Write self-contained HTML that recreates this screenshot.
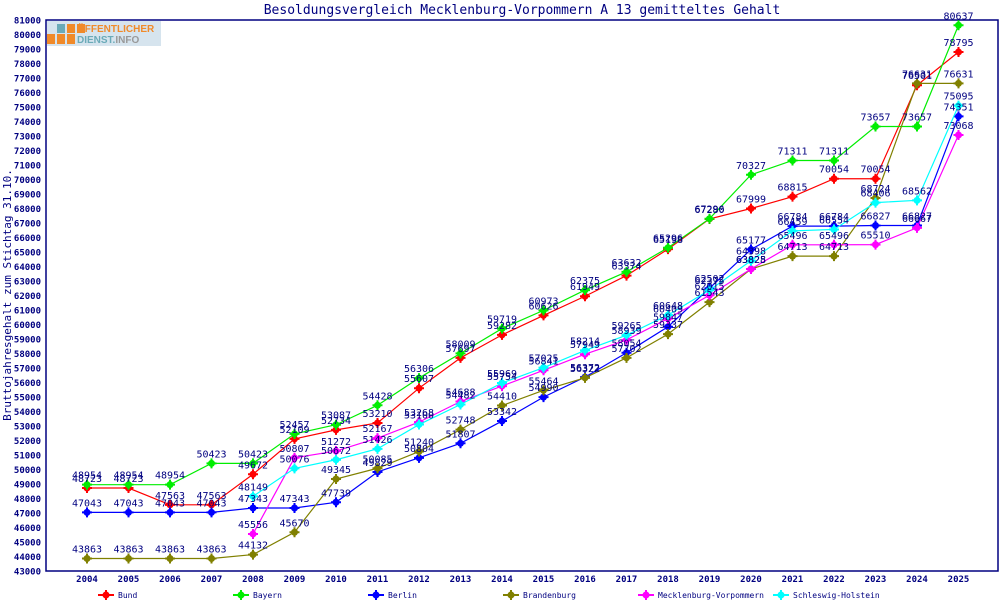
<!DOCTYPE html>
<html><head><meta charset="utf-8"><style>
html,body{margin:0;padding:0;background:#fff;width:1000px;height:600px;overflow:hidden}
svg text{font-family:"DejaVu Sans Mono","Liberation Mono",monospace;fill:#000080}
</style></head><body>
<svg id="s" width="1000" height="600" xmlns="http://www.w3.org/2000/svg">
<text x="522" y="14" font-size="13" text-anchor="middle">Besoldungsvergleich Mecklenburg-Vorpommern A 13 gemitteltes Gehalt</text>
<rect x="46" y="20" width="952" height="551" fill="none" stroke="#000080" stroke-width="1.5"/>
<text transform="translate(11,295) rotate(-90)" font-size="11" text-anchor="middle">Bruttojahresgehalt zum Stichtag 31.10.</text>
<g transform="translate(47,21)">
<rect width="114" height="25" fill="#d6e4ee"/>
<rect x="10" y="3" width="8" height="9" fill="#6aaab8"/><rect x="20" y="3" width="8" height="9" fill="#f08a2a"/><rect x="30" y="3" width="8" height="9" fill="#f08a2a"/>
<rect x="0" y="13" width="8" height="10" fill="#f08a2a"/><rect x="10" y="13" width="8" height="10" fill="#f08a2a"/><rect x="20" y="13" width="8" height="10" fill="#f08a2a"/>
<text x="30" y="11" font-size="10" font-weight="bold" style="fill:#f08a2a;font-family:'Liberation Sans',sans-serif">ÖFFENTLICHER</text>
<text x="30" y="22" font-size="10" font-weight="bold" style="fill:#6aaab8;font-family:'Liberation Sans',sans-serif">DIENST.<tspan style="fill:#999">INFO</tspan></text>
</g>
<g id="g"></g>
</svg>
<script>
var g=document.getElementById('g'),h='';
function Y(v){return 571-(v-43000)*14.5/1000}
function X(i){return 87+i*41.5}
for(var v=43000;v<=81000;v+=1000){var y=Y(v);h+='<text x="41" y="'+(y+3.5)+'" font-size="9" font-weight="bold" text-anchor="end">'+v+'</text>';}
for(var i=0;i<22;i++)h+='<text x="'+X(i)+'" y="582" font-size="9" font-weight="bold" text-anchor="middle">'+(2004+i)+'</text>';
var S=[
['Bund','#ff0000',0,[48723,48723,47563,47563,49672,52109,52734,53210,55607,57697,59282,60626,61949,63374,65198,67280,67999,68815,70054,70054,76501,78795]],
['Bayern','#00ee00',0,[48954,48954,48954,50423,50423,52457,53087,54428,56306,58009,59719,60973,62375,63632,65296,67296,70327,71311,71311,73657,73657,80637]],
['Berlin','#0000ff',0,[47043,47043,47043,47043,47343,47343,47739,49829,50804,51807,53342,54990,56372,58054,59847,62502,65177,66784,66784,66827,66827,74351]],
['Brandenburg','#808000',0,[43863,43863,43863,43863,44132,45670,49345,50085,51240,52748,54410,55464,56322,57702,59337,61543,63828,64713,64713,68724,76631,76631]],
['Mecklenburg-Vorpommern','#ff00ff',4,[45556,50807,51272,52167,53268,54688,55754,56841,57949,58939,60409,62015,63825,65496,65496,65510,66667,73068]],
['Schleswig-Holstein','#00ffff',4,[48149,50076,50672,51426,53100,54482,55969,57025,58214,59265,60648,62375,64398,66459,66554,68406,68562,75095]]];
function mk(x,y,c){return '<circle cx="'+x+'" cy="'+y+'" r="3.5" fill="'+c+'"/><path d="M'+(x-5)+' '+y+'h10M'+x+' '+(y-5)+'v10" stroke="'+c+'" stroke-width="2"/>';}
var lbl='';
S.forEach(function(s,k){var p=[];s[3].forEach(function(v,j){p.push(X(j+s[2])+','+Y(v));});
h+='<polyline points="'+p.join(' ')+'" fill="none" stroke="'+s[1]+'" stroke-width="1.2"/>';
s[3].forEach(function(v,j){var x=X(j+s[2]),y=Y(v);h+=mk(x,y,s[1]);lbl+='<text x="'+x+'" y="'+(y-6)+'" font-size="10" text-anchor="middle">'+v+'</text>';});
var lx=106+k*135;h+='<line x1="'+(lx-8)+'" y1="595" x2="'+(lx+8)+'" y2="595" stroke="'+s[1]+'" stroke-width="2"/>'+mk(lx,595,s[1])+'<text x="'+(lx+12)+'" y="598" font-size="8">'+s[0]+'</text>';});
g.innerHTML=h+lbl;
</script>
</body></html>
